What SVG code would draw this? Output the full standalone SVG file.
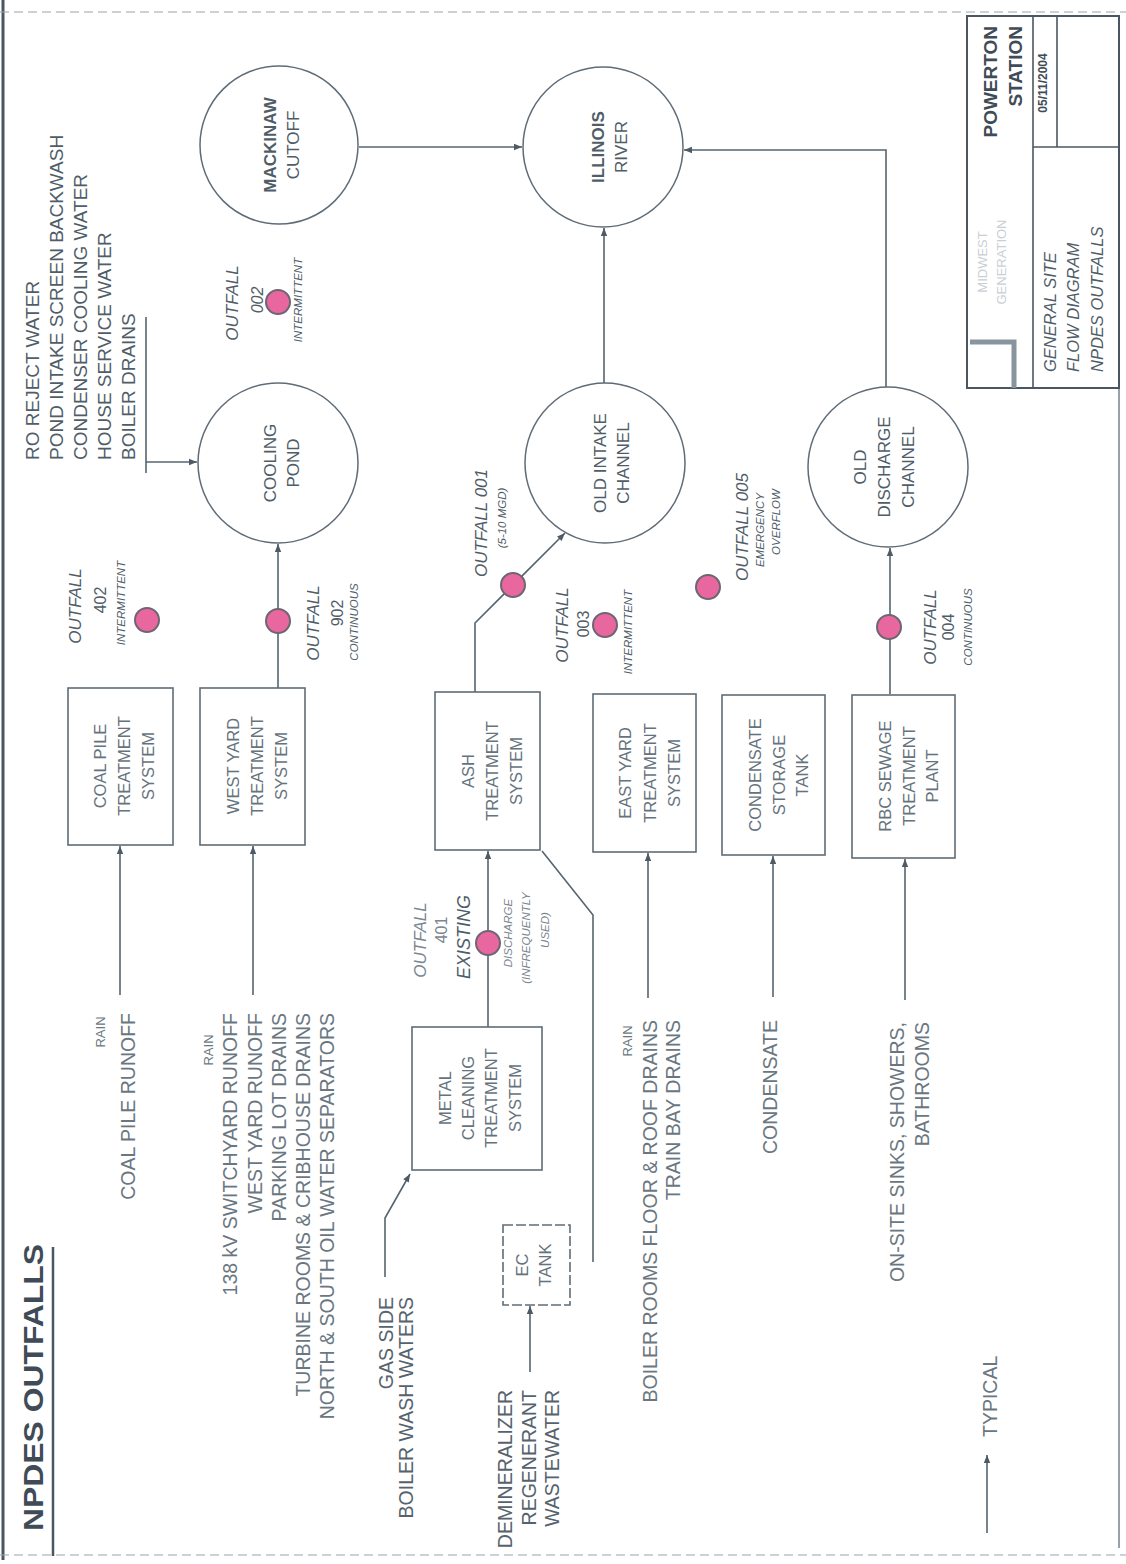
<svg xmlns="http://www.w3.org/2000/svg" width="1126" height="1564" viewBox="0 0 1126 1564">
<defs>
<marker id="ah" viewBox="0 0 10 10" refX="10" refY="5" markerWidth="9" markerHeight="8" markerUnits="userSpaceOnUse" orient="auto"><path d="M0,1 L10,5 L0,9 Z" fill="#4e5b66"/></marker>
</defs>
<style>
text{font-family:"Liberation Sans",Arial,sans-serif;fill:#4f5d68;}
.ln{fill:none;stroke:#56646f;stroke-width:1.6;}
.cir{fill:#fff;stroke:#5f6c77;stroke-width:1.5;}
.box{fill:none;stroke:#5f6c77;stroke-width:1.6;}
.dot{fill:#e8679f;stroke:#6d6672;stroke-width:2;}
.frame{fill:none;stroke:#4a5762;}
.lst{font-size:19px;}
.src{font-size:19.5px;fill:#6a7781;}
.rain{font-size:13px;fill:#6a7781;text-anchor:middle;}
.bx{font-size:16.5px;fill:#66737d;text-anchor:middle;}
.cl{font-size:17px;text-anchor:middle;}
.of{font-size:17px;font-style:italic;text-anchor:middle;}
.num{font-size:16px;text-anchor:middle;}
.sm{font-size:11.5px;font-style:italic;text-anchor:middle;}
.e{text-anchor:end;}
.mid{text-anchor:middle;}
.b{font-weight:bold;}
.tb{font-size:16.5px;font-style:italic;}
</style>
<rect x="0" y="0" width="1126" height="1564" fill="#ffffff"/>

<g id="frame">
<line class="frame" x1="3" y1="0" x2="3" y2="1560" stroke-width="3"/>
<line x1="0" y1="12" x2="1126" y2="12" stroke="#9aa4ab" stroke-width="1.2" stroke-dasharray="9 5"/>
<line x1="1119" y1="15" x2="1119" y2="1548" stroke="#7f8a93" stroke-width="1.6"/>
<line x1="0" y1="1555" x2="1126" y2="1555" stroke="#9aa4ab" stroke-width="1.2" stroke-dasharray="9 5"/>
<line class="frame" x1="53" y1="1247" x2="53" y2="1556" stroke-width="2.5"/>
</g>

<g id="title">
<text class="b" style="font-size:28px;fill:#3f4c57" transform="translate(43 1531) rotate(-90)" textLength="287" lengthAdjust="spacingAndGlyphs">NPDES OUTFALLS</text>
</g>

<g id="title-block">
<rect x="967" y="16" width="152" height="372" fill="none" stroke="#4a5762" stroke-width="2"/>
<line x1="1033" y1="16" x2="1033" y2="388" stroke="#4a5762" stroke-width="1.6"/>
<line x1="1057" y1="16" x2="1057" y2="147" stroke="#4a5762" stroke-width="1.6"/>
<line x1="1033" y1="147" x2="1119" y2="147" stroke="#4a5762" stroke-width="1.6"/>
<text class="b e" style="font-size:19px;fill:#3f4c57" transform="translate(997 26) rotate(-90)">POWERTON</text>
<text class="b e" style="font-size:19px;fill:#3f4c57" transform="translate(1022 26) rotate(-90)">STATION</text>
<text class="b mid" style="font-size:12px;fill:#3f4c57" transform="translate(1047 83) rotate(-90)">05/11/2004</text>
<text class="mid" style="font-size:13px;fill:#c9cfd4" transform="translate(987 262) rotate(-90)">MIDWEST</text>
<text class="mid" style="font-size:13px;fill:#c9cfd4" transform="translate(1006 262) rotate(-90)">GENERATION</text>
<path d="M970,342 H1014 V388" fill="none" stroke="#8a949c" stroke-width="5"/>
<text class="tb" transform="translate(1056 372) rotate(-90)">GENERAL SITE</text>
<text class="tb" transform="translate(1079 372) rotate(-90)">FLOW DIAGRAM</text>
<text class="tb" transform="translate(1103 372) rotate(-90)">NPDES OUTFALLS</text>
</g>

<g id="connectors">
<path class="ln" d="M359,147 H522" marker-end="url(#ah)"/>
<path class="ln" d="M886,387 V150 H684" marker-end="url(#ah)"/>
<path class="ln" d="M604,383 V228" marker-end="url(#ah)"/>
<path class="ln" d="M146,317 V473"/>
<path class="ln" d="M146,462 H197" marker-end="url(#ah)"/>
<path class="ln" d="M278,688 V544" marker-end="url(#ah)"/>
<path class="ln" d="M475,692 V623 L565,533" marker-end="url(#ah)"/>
<path class="ln" d="M488,1027 V851" marker-end="url(#ah)"/>
<path class="ln" d="M385,1277 V1218 L410,1174" marker-end="url(#ah)"/>
<path class="ln" d="M530,1372 V1306" marker-end="url(#ah)"/>
<path class="ln" d="M593,1262 V915 L542,851"/>
<path class="ln" d="M120,995 V846" marker-end="url(#ah)"/>
<path class="ln" d="M253,995 V846" marker-end="url(#ah)"/>
<path class="ln" d="M648,998 V853" marker-end="url(#ah)"/>
<path class="ln" d="M773,997 V856" marker-end="url(#ah)"/>
<path class="ln" d="M905,1000 V859" marker-end="url(#ah)"/>
<path class="ln" d="M890,694 V548" marker-end="url(#ah)"/>
<path class="ln" d="M987,1533 V1455" marker-end="url(#ah)"/>
</g>

<g id="n-intake-list">
<text class="lst" transform="translate(39 460) rotate(-90)"><tspan x="0" y="0">RO REJECT WATER</tspan><tspan x="0" y="24">POND INTAKE SCREEN BACKWASH</tspan><tspan x="0" y="48">CONDENSER COOLING WATER</tspan><tspan x="0" y="72">HOUSE SERVICE WATER</tspan><tspan x="0" y="96">BOILER DRAINS</tspan></text>
</g>

<g id="n-mackinaw">
<circle class="cir" cx="279" cy="145" r="79"/>
<text class="cl" transform="translate(276 145) rotate(-90)"><tspan class="b" x="0" y="0">MACKINAW</tspan><tspan x="0" y="23">CUTOFF</tspan></text>
</g>
<g id="n-illinois">
<circle class="cir" cx="603" cy="147" r="80"/>
<text class="cl" transform="translate(604 147) rotate(-90)"><tspan class="b" x="0" y="0">ILLINOIS</tspan><tspan x="0" y="23">RIVER</tspan></text>
</g>
<g id="n-cooling">
<circle class="cir" cx="278" cy="463" r="80"/>
<text class="cl" transform="translate(276 463) rotate(-90)"><tspan x="0" y="0">COOLING</tspan><tspan x="0" y="23">POND</tspan></text>
</g>
<g id="n-oldintake">
<circle class="cir" cx="605" cy="463" r="80"/>
<text class="cl" transform="translate(606 463) rotate(-90)"><tspan x="0" y="0">OLD INTAKE</tspan><tspan x="0" y="23">CHANNEL</tspan></text>
</g>
<g id="n-olddischarge">
<circle class="cir" cx="888" cy="467" r="80"/>
<text class="cl" transform="translate(866 467) rotate(-90)"><tspan x="0" y="0">OLD</tspan><tspan x="0" y="24">DISCHARGE</tspan><tspan x="0" y="48">CHANNEL</tspan></text>
</g>

<g id="n-coalpile">
<rect class="box" x="68" y="688" width="105" height="157"/>
<text class="bx" transform="translate(106 766) rotate(-90)"><tspan x="0" y="0">COAL PILE</tspan><tspan x="0" y="24">TREATMENT</tspan><tspan x="0" y="48">SYSTEM</tspan></text>
</g>
<g id="n-westyard">
<rect class="box" x="200" y="688" width="105" height="157"/>
<text class="bx" transform="translate(239 766) rotate(-90)"><tspan x="0" y="0">WEST YARD</tspan><tspan x="0" y="24">TREATMENT</tspan><tspan x="0" y="48">SYSTEM</tspan></text>
</g>
<g id="n-ash">
<rect class="box" x="435" y="692" width="105" height="158"/>
<text class="bx" transform="translate(474 771) rotate(-90)"><tspan x="0" y="0">ASH</tspan><tspan x="0" y="24">TREATMENT</tspan><tspan x="0" y="48">SYSTEM</tspan></text>
</g>
<g id="n-eastyard">
<rect class="box" x="593" y="694" width="103" height="158"/>
<text class="bx" transform="translate(631 773) rotate(-90)"><tspan x="0" y="0">EAST YARD</tspan><tspan x="0" y="24.5">TREATMENT</tspan><tspan x="0" y="49">SYSTEM</tspan></text>
</g>
<g id="n-condensate">
<rect class="box" x="722" y="695" width="103" height="160"/>
<text class="bx" transform="translate(761 775) rotate(-90)"><tspan x="0" y="0">CONDENSATE</tspan><tspan x="0" y="23.5">STORAGE</tspan><tspan x="0" y="47">TANK</tspan></text>
</g>
<g id="n-rbc">
<rect class="box" x="852" y="695" width="103" height="163"/>
<text class="bx" transform="translate(891 776) rotate(-90)"><tspan x="0" y="0">RBC SEWAGE</tspan><tspan x="0" y="23.5">TREATMENT</tspan><tspan x="0" y="47">PLANT</tspan></text>
</g>
<g id="n-metal">
<rect class="box" x="412" y="1027" width="130" height="143"/>
<text class="bx" transform="translate(451 1098) rotate(-90)"><tspan x="0" y="0">METAL</tspan><tspan x="0" y="23">CLEANING</tspan><tspan x="0" y="46">TREATMENT</tspan><tspan x="0" y="70">SYSTEM</tspan></text>
</g>
<g id="n-ectank">
<rect class="box" x="503" y="1225" width="67" height="80" stroke-dasharray="10 3"/>
<text class="bx" transform="translate(528 1265) rotate(-90)"><tspan x="0" y="0">EC</tspan><tspan x="0" y="23">TANK</tspan></text>
</g>

<g id="s-coalpile">
<text class="rain" transform="translate(105 1032) rotate(-90)">RAIN</text>
<text class="src e" transform="translate(135 1013) rotate(-90)">COAL PILE RUNOFF</text>
</g>
<g id="s-westyard">
<text class="rain" transform="translate(213 1050) rotate(-90)">RAIN</text>
<text class="src e" transform="translate(237 1013) rotate(-90)"><tspan x="0" y="0">138 kV SWITCHYARD RUNOFF</tspan><tspan x="0" y="24.5">WEST YARD RUNOFF</tspan><tspan x="0" y="49">PARKING LOT DRAINS</tspan><tspan x="0" y="73">TURBINE ROOMS &amp; CRIBHOUSE DRAINS</tspan><tspan x="0" y="97">NORTH &amp; SOUTH OIL WATER SEPARATORS</tspan></text>
</g>
<g id="s-gasside">
<text class="src e" style="fill:#56636e" transform="translate(393 1297) rotate(-90)"><tspan x="0" y="0">GAS SIDE</tspan><tspan x="0" y="20">BOILER WASH WATERS</tspan></text>
</g>
<g id="s-demin">
<text class="src e" style="fill:#56636e" transform="translate(512 1390) rotate(-90)"><tspan x="0" y="0">DEMINERALIZER</tspan><tspan x="0" y="23.5">REGENERANT</tspan><tspan x="0" y="47">WASTEWATER</tspan></text>
</g>
<g id="s-boilerrooms">
<text class="rain" transform="translate(632 1041) rotate(-90)">RAIN</text>
<text class="src e" transform="translate(657 1020) rotate(-90)"><tspan x="0" y="0">BOILER ROOMS FLOOR &amp; ROOF DRAINS</tspan><tspan x="0" y="23">TRAIN BAY DRAINS</tspan></text>
</g>
<g id="s-condensate">
<text class="src e" transform="translate(777 1020) rotate(-90)">CONDENSATE</text>
</g>
<g id="s-sanitary">
<text class="src e" transform="translate(904 1022) rotate(-90)"><tspan x="0" y="0">ON-SITE SINKS, SHOWERS,</tspan><tspan x="0" y="25">BATHROOMS</tspan></text>
</g>

<g id="o-002">
<circle class="dot" cx="278" cy="302" r="12"/>
<text class="of" transform="translate(238 303) rotate(-90)">OUTFALL</text>
<text class="num" style="font-style:italic" transform="translate(263 300) rotate(-90)">002</text>
<text class="sm" transform="translate(302 300) rotate(-90)">INTERMITTENT</text>
</g>
<g id="o-402">
<circle class="dot" cx="147" cy="620" r="12"/>
<text class="of" transform="translate(81 606) rotate(-90)">OUTFALL</text>
<text class="num" transform="translate(106 600) rotate(-90)">402</text>
<text class="sm" transform="translate(125 603) rotate(-90)">INTERMITTENT</text>
</g>
<g id="o-902">
<circle class="dot" cx="278" cy="621" r="12"/>
<text class="of" transform="translate(319 623) rotate(-90)">OUTFALL</text>
<text class="num" transform="translate(343 613) rotate(-90)">902</text>
<text class="sm" transform="translate(358 622) rotate(-90)">CONTINUOUS</text>
</g>
<g id="o-001">
<circle class="dot" cx="513" cy="585" r="12"/>
<text class="of" transform="translate(487 523) rotate(-90)">OUTFALL 001</text>
<text class="sm" transform="translate(506 518) rotate(-90)">(5-10 MGD)</text>
</g>
<g id="o-003">
<circle class="dot" cx="605" cy="625" r="12"/>
<text class="of" transform="translate(568 625) rotate(-90)">OUTFALL</text>
<text class="num" transform="translate(589 624) rotate(-90)">003</text>
<text class="sm" transform="translate(632 632) rotate(-90)">INTERMITTENT</text>
</g>
<g id="o-005">
<circle class="dot" cx="708" cy="587" r="12"/>
<text class="of" transform="translate(748 527) rotate(-90)">OUTFALL 005</text>
<text class="sm" transform="translate(764 530) rotate(-90)">EMERGENCY</text>
<text class="sm" transform="translate(780 522) rotate(-90)">OVERFLOW</text>
</g>
<g id="o-004">
<circle class="dot" cx="889" cy="627" r="12"/>
<text class="of" transform="translate(936 627) rotate(-90)">OUTFALL</text>
<text class="num" transform="translate(954 627) rotate(-90)">004</text>
<text class="sm" transform="translate(972 627) rotate(-90)">CONTINUOUS</text>
</g>
<g id="o-401">
<circle class="dot" cx="488" cy="943" r="12"/>
<text class="of" style="fill:#7a8690" transform="translate(426 940) rotate(-90)">OUTFALL</text>
<text class="num" style="fill:#7a8690" transform="translate(447 930) rotate(-90)">401</text>
<text class="of" style="font-size:18px" transform="translate(470 937) rotate(-90)">EXISTING</text>
<text class="sm" style="fill:#7a8690" transform="translate(512 933) rotate(-90)">DISCHARGE</text>
<text class="sm" style="fill:#7a8690" transform="translate(530 938) rotate(-90)">(INFREQUENTLY</text>
<text class="sm" style="fill:#7a8690" transform="translate(549 930) rotate(-90)">USED)</text>
</g>

<g id="legend">
<text class="src" transform="translate(997 1437) rotate(-90)">TYPICAL</text>
</g>
</svg>
